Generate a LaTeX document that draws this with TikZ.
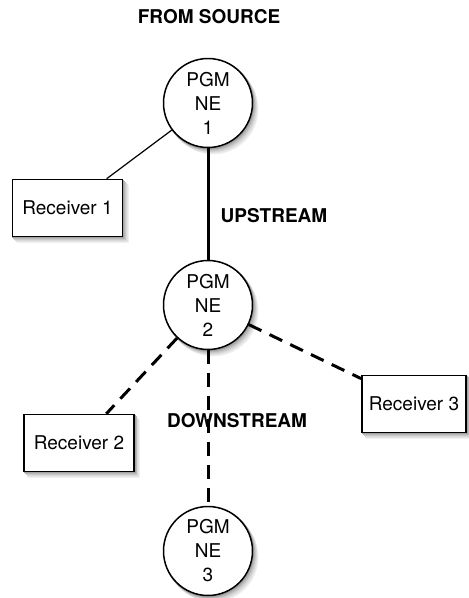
\documentclass[tikz,border=0pt]{standalone}
\usepackage{fontspec}
\setmainfont{TeX Gyre Heros}
\begin{document}
\begin{tikzpicture}[x=1pt,y=-1pt,
  txt/.style={font=\fontsize{19}{24}\selectfont},
  lbl/.style={font=\fontsize{19}{24}\selectfont\bfseries},
  ne/.style={circle,draw,line width=1.5pt,fill=white,minimum size=89pt,
      inner sep=0pt,align=center,txt},
  rcv/.style={rectangle,draw,line width=1.5pt,fill=white,minimum width=110pt,
      minimum height=57pt,inner sep=0pt,txt},
  shadow ring/.style={line width=1.8pt},
  thin link/.style={line width=1.2pt},
  main link/.style={line width=3pt},
  dash link/.style={line width=3pt,dash pattern=on 14pt off 9pt}]
\useasboundingbox (0,0) rectangle (469,598);

% soft drop shadows, drawn first: outlines of the shapes in fading greys,
% each one nudged further down and to the right
\foreach \k/\g in {6/6,5/10,4/15,3/21,2/28,1/36} {
  \draw[shadow ring,black!\g] (208+\k*0.85,103+\k) circle (44.5pt);
  \draw[shadow ring,black!\g] (208+\k*0.85,305+\k) circle (44.5pt);
  \draw[shadow ring,black!\g] (208+\k*0.85,551+\k) circle (44.5pt);
  \draw[shadow ring,black!\g] (12.5+\k*0.85,179.5+\k) rectangle (122.5+\k*0.85,236.5+\k);
  \draw[shadow ring,black!\g] (24+\k*0.85,414.5+\k) rectangle (134+\k*0.85,471.5+\k);
  \draw[shadow ring,black!\g] (362+\k*0.85,375.5+\k) rectangle (466+\k*0.85,432.5+\k);
}

\node[ne] (ne1) at (208,103) {PGM\\NE\\1};
\node[ne] (ne2) at (208,305) {PGM\\NE\\2};
\node[ne] (ne3) at (208,551) {PGM\\NE\\3};
\node[rcv] (r1) at (67.5,208) {Receiver 1};
\node[rcv] (r2) at (79,443) {Receiver 2};
\node[rcv,minimum width=104pt] (r3) at (414,404) {Receiver 3};

\draw[thin link] (ne1) -- (r1);
\draw[main link] (ne1) -- (ne2);
\draw[dash link] (ne2) -- (r2);
\draw[dash link] (ne2) -- (r3);
\draw[dash link] (ne2) -- (ne3);

\node[lbl] (src) at (209,17) {FROM SOURCE};
\node[lbl] (up) at (274,216) {UPSTREAM};
\node[lbl] (down) at (237,421) {DOWNSTREAM};
\end{tikzpicture}
\end{document}
